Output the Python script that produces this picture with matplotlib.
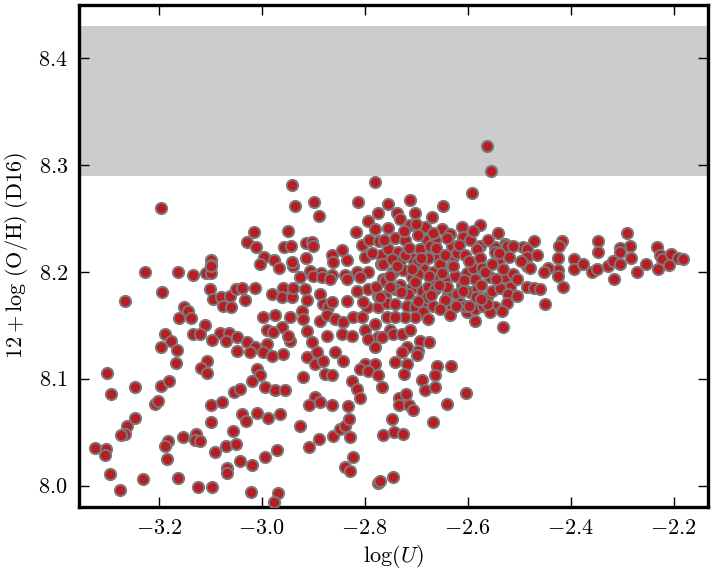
import matplotlib
matplotlib.use("Agg")
import matplotlib.pyplot as plt

plt.rcParams['font.family'] = 'serif'
plt.rcParams['font.serif'] = ['cmr10']
plt.rcParams['mathtext.fontset'] = 'cm'
plt.rcParams['axes.formatter.use_mathtext'] = True
plt.rcParams['axes.unicode_minus'] = True

log_u = [
 -3.196, -3.099, -3.099,
 -3.227, -3.163, -3.134, -3.109, -3.099, -3.099, -3.194, -3.266, -3.101, -3.095, -3.080, -3.062, -3.050,
 -3.076, -3.060, -3.151, -3.143, -3.161, -3.138, -3.111, -3.188, -3.134, -3.120, -3.082, -3.064, -3.177,
 -3.097, -3.070, -3.196, -3.165, -3.049, -3.167, -3.107, -3.118, -3.107, -3.301, -3.247, -3.196, -3.181,
 -3.293, -3.054,
 -3.208, -3.202, -3.247, -3.262, -3.266, -3.274, -3.324, -3.303, -3.305, -3.295, -3.276, -3.231, -3.183,
 -3.188, -3.184, -3.163, -3.153, -3.128, -3.130, -3.120, -3.091, -3.124, -3.097, -3.099, -3.078, -3.099,
 -3.056, -3.070, -3.050, -3.068, -3.068,
 -2.942, -2.781, -2.936, -2.899, -2.889, -2.814, -2.775, -2.794, -2.781, -2.950, -3.016, -3.029, -3.012,
 -2.957, -2.944, -2.915, -2.903, -2.901, -2.817, -2.806, -2.792, -2.773, -2.996, -2.977, -3.004, -2.967,
 -2.940, -2.942, -2.915, -2.907, -2.864, -2.845, -2.835, -2.862, -2.885, -2.864, -2.839, -2.816, -2.800,
 -2.794, -2.769, -2.769,
 -3.039, -3.014, -3.033, -2.981, -2.959, -2.961, -2.942, -2.940, -2.917, -2.913, -2.926, -2.901, -2.883,
 -2.868, -2.887, -2.882, -2.872, -2.864, -2.835, -2.835, -2.816, -2.810, -2.794, -2.775, -2.765, -2.775,
 -2.796, -2.804, -2.998, -2.975, -2.946, -2.922, -2.920, -2.887, -2.874, -2.858, -2.843, -2.823, -2.806,
 -2.800, -2.781, -2.775, -2.794, -2.990, -2.961, -2.979, -2.946, -2.950, -2.913, -2.903, -2.874, -2.845,
 -2.825, -2.781, -3.049, -3.029, -3.014, -2.990, -2.998, -2.981, -2.959, -3.023, -2.913, -2.893, -2.897,
 -2.882, -2.858, -2.843, -2.878, -2.864, -2.920, -2.800, -2.781, -2.810, -2.794, -2.775, -2.825, -2.816,
 -2.767, -3.010, -3.004, -3.019, -2.994, -2.975, -2.955,
 -3.043, -2.897, -2.887, -2.909, -2.864, -2.833, -2.810, -3.039, -3.031, -3.010, -2.988, -2.965, -2.926,
 -3.043, -3.019, -2.994, -2.971, -2.909, -2.889, -2.862, -2.849, -2.839, -2.831, -2.829, -2.823, -2.839,
 -2.829, -2.775, -2.771, -3.021, -2.969, -2.977, -2.765,
 -2.563, -2.555, -2.592, -2.713, -2.649, -2.755, -2.738, -2.732, -2.713, -2.693, -2.684, -2.650, -2.612,
 -2.577, -2.542, -2.528, -2.610, -2.742, -2.722, -2.680, -2.664, -2.631, -2.577, -2.548, -2.493,
 -2.755, -2.736, -2.709, -2.693, -2.674, -2.658, -2.629, -2.620, -2.606, -2.583, -2.577, -2.548, -2.542,
 -2.524, -2.513, -2.485, -2.485, -2.485, -2.485, -2.765, -2.746, -2.732, -2.726, -2.709, -2.687, -2.668,
 -2.654, -2.631, -2.625, -2.602, -2.590, -2.573, -2.557, -2.538, -2.528, -2.513, -2.518, -2.761, -2.732,
 -2.709, -2.689, -2.678, -2.664, -2.645, -2.639, -2.620, -2.596, -2.583, -2.563, -2.553, -2.538, -2.522,
 -2.548, -2.524, -2.505, -2.534, -2.761, -2.757, -2.718, -2.703, -2.689, -2.680, -2.668, -2.687, -2.678,
 -2.703, -2.722, -2.631, -2.616, -2.602, -2.606, -2.586, -2.571, -2.557, -2.563, -2.586, -2.635, -2.757,
 -2.751, -2.746, -2.728, -2.718, -2.693, -2.676, -2.697, -2.767, -2.532,
 -2.747, -2.722, -2.697, -2.678, -2.645, -2.742, -2.664, -2.612, -2.586, -2.645, -2.716, -2.697, -2.654,
 -2.742, -2.713, -2.703, -2.670, -2.635, -2.596, -2.697, -2.755,
 -2.752, -2.738, -2.715, -2.703, -2.690, -2.676, -2.662, -2.651, -2.640, -2.628, -2.617, -2.608, -2.597,
 -2.585, -2.575, -2.566, -2.552, -2.546, -2.531, -2.520, -2.505, -2.497, -2.742, -2.730, -2.709, -2.696,
 -2.671, -2.656, -2.622, -2.610, -2.598, -2.575, -2.786, -2.778, -2.762, -2.724, -2.700, -2.668, -2.640,
 -2.590, -2.560, -2.540, -2.770, -2.752,
 -2.742, -2.728, -2.699, -2.718, -2.724, -2.689, -2.660, -2.633, -2.664, -2.684, -2.664, -2.604, -2.641,
 -2.734, -2.720, -2.734, -2.714, -2.707, -2.747, -2.668, -2.744, -2.726, -2.745,
 -2.472, -2.417, -2.423, -2.347, -2.291, -2.285, -2.233, -2.305,
 -2.466, -2.479, -2.472, -2.460, -2.450, -2.416, -2.425, -2.425, -2.425, -2.445, -2.452, -2.394, -2.394,
 -2.377, -2.359, -2.350, -2.347, -2.328, -2.318, -2.305, -2.305, -2.316, -2.283, -2.272, -2.254, -2.227,
 -2.223, -2.231, -2.210, -2.206, -2.192, -2.182,
]

oh_d16 = [
 8.260, 8.211, 8.206,
 8.200, 8.200, 8.197, 8.199, 8.199, 8.205, 8.181, 8.173, 8.184, 8.175, 8.176, 8.177, 8.184,
 8.168, 8.167, 8.167, 8.163, 8.157, 8.157, 8.150, 8.142, 8.142, 8.142, 8.143, 8.143, 8.135,
 8.136, 8.135, 8.130, 8.127, 8.126, 8.115, 8.117, 8.110, 8.105, 8.105, 8.092, 8.093, 8.098,
 8.086, 8.088,
 8.076, 8.079, 8.063, 8.056, 8.048, 8.047, 8.035, 8.034, 8.029, 8.011, 7.996, 8.006, 8.042,
 8.037, 8.025, 8.007, 8.045, 8.048, 8.043, 8.042, 8.031, 7.999, 7.999, 8.075, 8.078, 8.059,
 8.051, 8.037, 8.039, 8.016, 8.012,
 8.281, 8.284, 8.262, 8.265, 8.252, 8.265, 8.255, 8.248, 8.240, 8.238, 8.237, 8.228, 8.223,
 8.223, 8.224, 8.227, 8.228, 8.224, 8.237, 8.225, 8.230, 8.229, 8.214, 8.211, 8.207, 8.204,
 8.205, 8.209, 8.213, 8.201, 8.216, 8.220, 8.211, 8.209, 8.199, 8.197, 8.197, 8.200, 8.214,
 8.200, 8.216, 8.207,
 8.185, 8.185, 8.174, 8.179, 8.185, 8.176, 8.176, 8.185, 8.184, 8.174, 8.195, 8.196, 8.195,
 8.193, 8.179, 8.170, 8.167, 8.172, 8.173, 8.193, 8.182, 8.195, 8.184, 8.177, 8.193, 8.167,
 8.167, 8.172, 8.158, 8.160, 8.158, 8.163, 8.156, 8.154, 8.160, 8.156, 8.153, 8.158, 8.158,
 8.146, 8.151, 8.139, 8.137, 8.146, 8.148, 8.144, 8.135, 8.140, 8.145, 8.134, 8.140, 8.142,
 8.140, 8.130, 8.139, 8.134, 8.130, 8.132, 8.125, 8.121, 8.123, 8.125, 8.120, 8.125, 8.114,
 8.117, 8.125, 8.117, 8.104, 8.103, 8.102, 8.114, 8.114, 8.109, 8.107, 8.103, 8.098, 8.090,
 8.092, 8.109, 8.103, 8.098, 8.092, 8.089, 8.089,
 8.090, 8.083, 8.078, 8.075, 8.075, 8.074, 8.082, 8.067, 8.060, 8.068, 8.063, 8.067, 8.056,
 8.023, 8.019, 8.027, 8.033, 8.036, 8.044, 8.046, 8.053, 8.056, 8.062, 8.045, 8.027, 8.017,
 8.014, 8.002, 8.004, 7.994, 7.993, 7.985, 8.047,
 8.318, 8.294, 8.274, 8.267, 8.262, 8.263, 8.255, 8.249, 8.244, 8.241, 8.242, 8.240, 8.242,
 8.244, 8.236, 8.226, 8.233, 8.232, 8.230, 8.230, 8.230, 8.224, 8.224, 8.223, 8.223,
 8.221, 8.219, 8.213, 8.221, 8.224, 8.214, 8.214, 8.218, 8.216, 8.221, 8.213, 8.219, 8.210,
 8.224, 8.224, 8.221, 8.214, 8.205, 8.186, 8.207, 8.200, 8.210, 8.202, 8.195, 8.204, 8.200,
 8.207, 8.205, 8.196, 8.199, 8.204, 8.204, 8.195, 8.191, 8.195, 8.198, 8.186, 8.191, 8.188,
 8.185, 8.182, 8.186, 8.184, 8.191, 8.179, 8.179, 8.181, 8.184, 8.176, 8.182, 8.185, 8.179,
 8.167, 8.171, 8.177, 8.163, 8.177, 8.171, 8.168, 8.167, 8.171, 8.176, 8.168, 8.162, 8.156,
 8.158, 8.158, 8.168, 8.171, 8.162, 8.168, 8.165, 8.168, 8.162, 8.170, 8.154, 8.160, 8.158,
 8.146, 8.142, 8.142, 8.130, 8.135, 8.134, 8.126, 8.139, 8.148,
 8.212, 8.216, 8.210, 8.213, 8.216, 8.184, 8.193, 8.188, 8.193, 8.174, 8.179, 8.198, 8.165,
 8.158, 8.146, 8.255, 8.251, 8.235, 8.230, 8.234, 8.241,
 8.196, 8.205, 8.222, 8.190, 8.213, 8.196, 8.222, 8.199, 8.186, 8.205, 8.225, 8.192, 8.210,
 8.176, 8.188, 8.200, 8.207, 8.193, 8.203, 8.214, 8.193, 8.210, 8.170, 8.181, 8.203, 8.173,
 8.178, 8.188, 8.168, 8.182, 8.168, 8.175, 8.218, 8.186, 8.230, 8.238, 8.245, 8.236, 8.232,
 8.238, 8.230, 8.218, 8.176, 8.186,
 8.116, 8.125, 8.122, 8.114, 8.104, 8.099, 8.112, 8.112, 8.103, 8.089, 8.092, 8.087, 8.076,
 8.082, 8.086, 8.075, 8.075, 8.071, 8.062, 8.059, 8.050, 8.048, 8.008,
 8.229, 8.229, 8.224, 8.229, 8.236, 8.224, 8.223, 8.222,
 8.216, 8.204, 8.185, 8.184, 8.170, 8.186, 8.213, 8.202, 8.196, 8.204, 8.200, 8.212, 8.203,
 8.207, 8.200, 8.203, 8.219, 8.205, 8.210, 8.219, 8.207, 8.193, 8.213, 8.200, 8.207, 8.216,
 8.212, 8.203, 8.206, 8.217, 8.213, 8.212,
]

band_low, band_high = 8.29, 8.43

fig = plt.figure(figsize=(7.12, 5.80), dpi=100)
ax = fig.add_axes([0.111, 0.126, 0.883, 0.866])

ax.axhspan(band_low, band_high, color='#cccccc', lw=0, zorder=1)
ax.scatter(log_u, oh_d16, s=66, c='#b81d24', edgecolors='#7a7a7a',
           linewidths=1.4, zorder=3)

ax.set_xlim(-3.355, -2.134)
ax.set_ylim(7.98, 8.45)
ax.set_xticks([-3.2, -3.0, -2.8, -2.6, -2.4, -2.2])
ax.set_yticks([8.0, 8.1, 8.2, 8.3, 8.4])

for sp in ax.spines.values():
    sp.set_linewidth(2.4)

ax.tick_params(direction='in', length=7, width=1, top=True, right=True,
               labelsize=16, pad=8)
ax.set_xlabel(r'$\log(U)$', fontsize=16, labelpad=4)
ax.set_ylabel(r'$12+\log\,({\rm O/H})\ ({\rm D16})$', fontsize=16, labelpad=6)

fig.savefig('out.png', dpi=100)
